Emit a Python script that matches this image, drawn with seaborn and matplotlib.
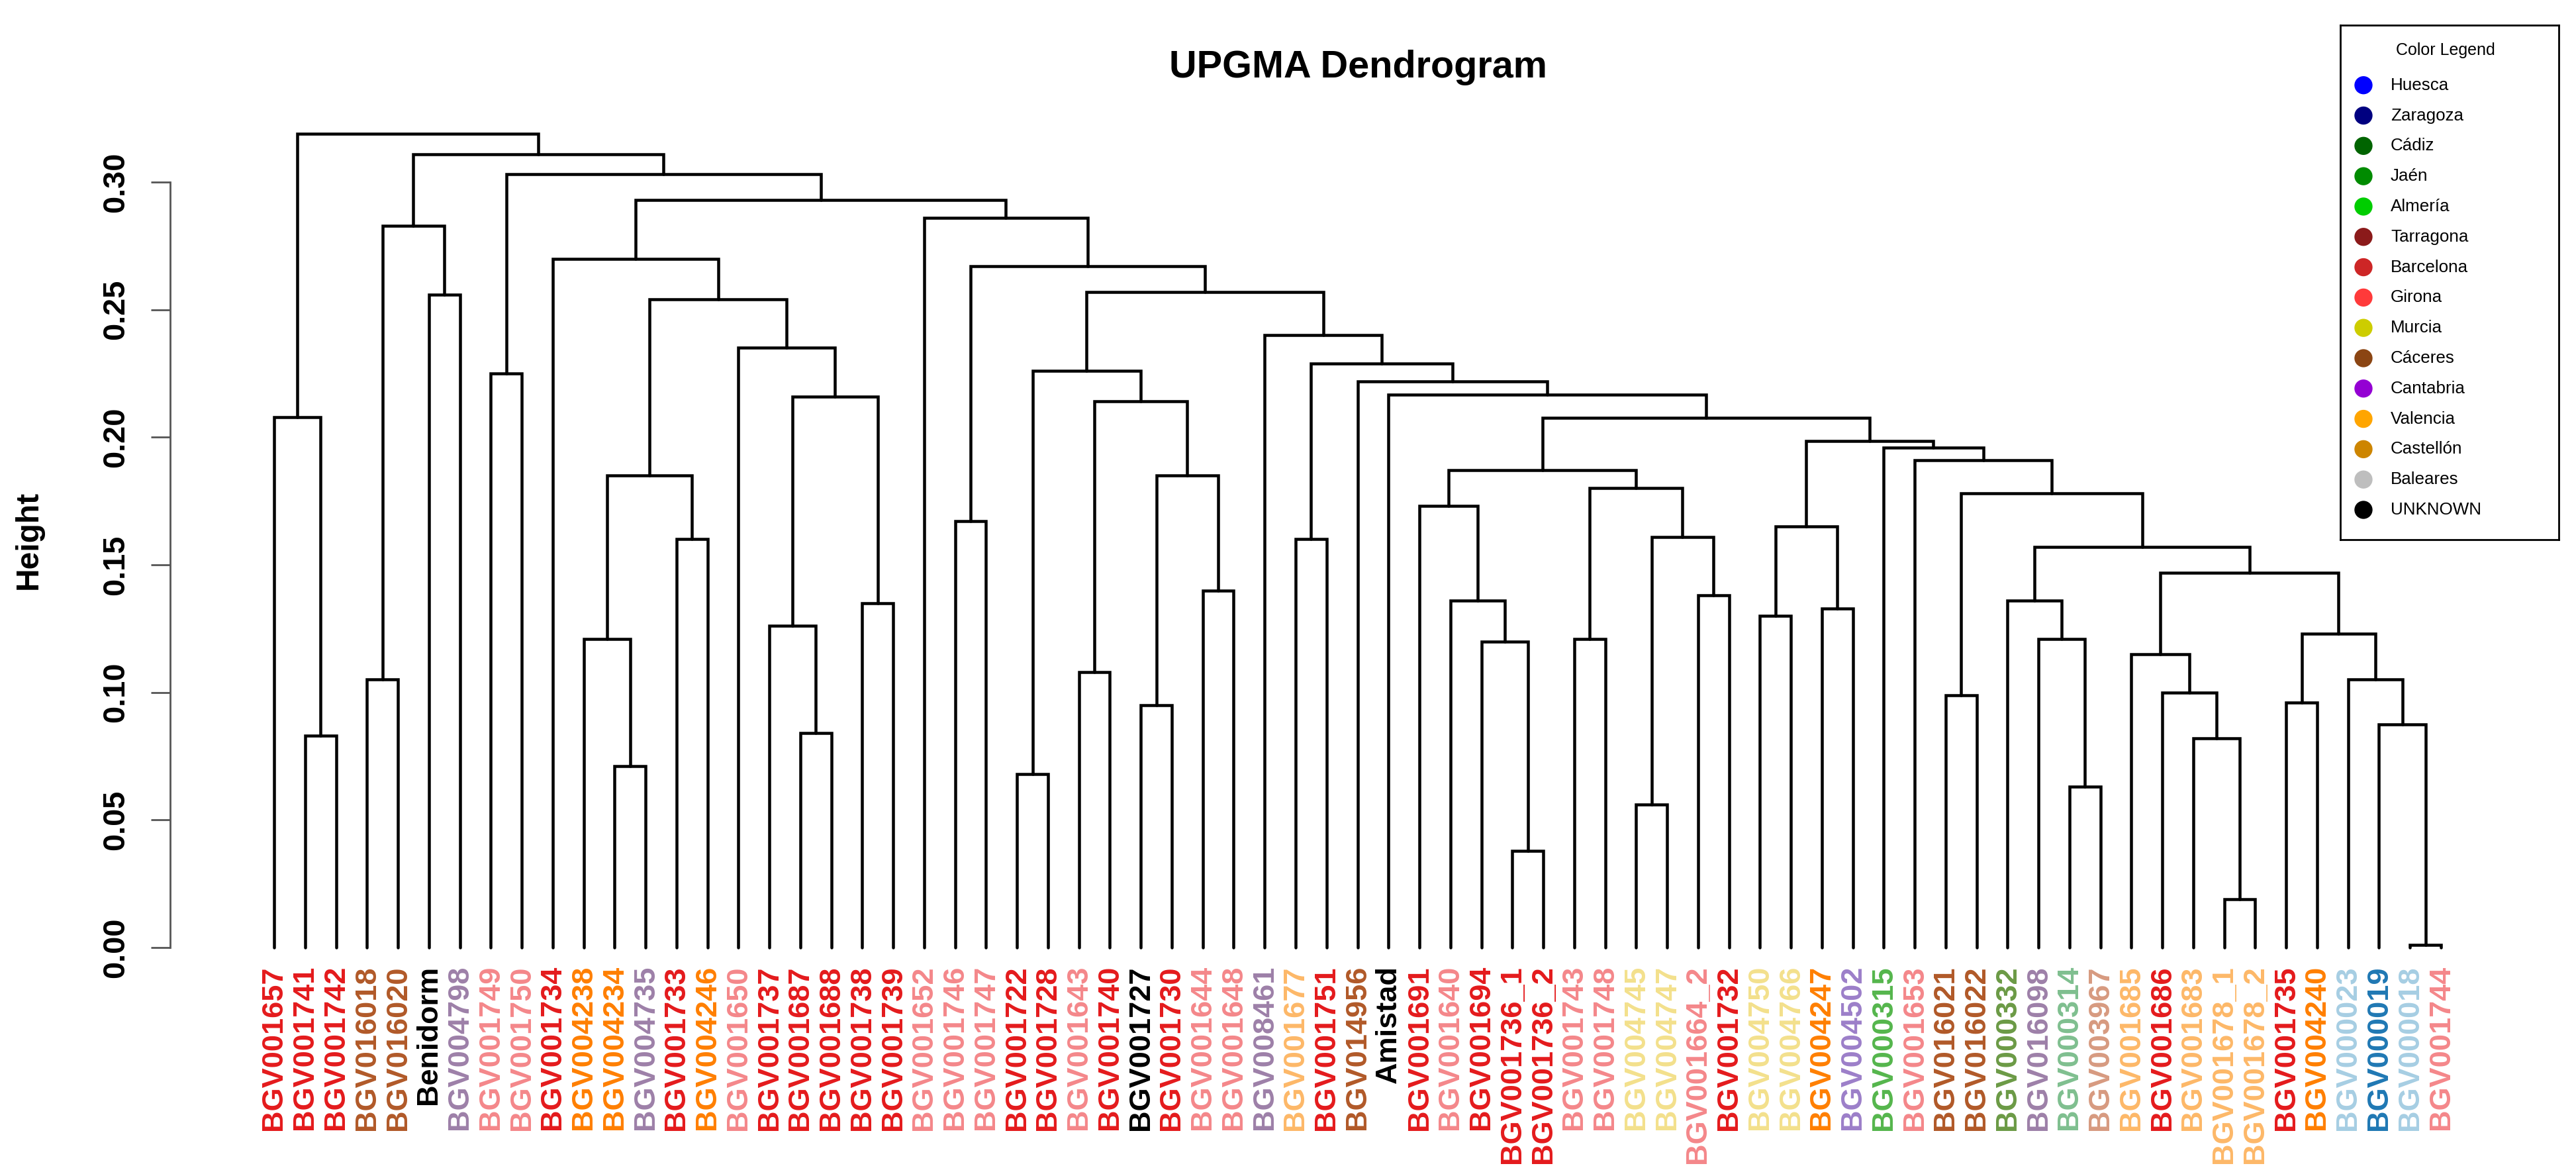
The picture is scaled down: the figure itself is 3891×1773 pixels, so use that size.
import numpy as np
import pandas as pd
import matplotlib
matplotlib.use("Agg")
import matplotlib.pyplot as plt
import seaborn as sns

# ---------------- data ----------------
leaf_labels = [
    "BGV001657", "BGV001741", "BGV001742", "BGV016018", "BGV016020", "Benidorm",
    "BGV004798", "BGV001749", "BGV001750", "BGV001734", "BGV004238", "BGV004234",
    "BGV004735", "BGV001733", "BGV004246", "BGV001650", "BGV001737", "BGV001687",
    "BGV001688", "BGV001738", "BGV001739", "BGV001652", "BGV001746", "BGV001747",
    "BGV001722", "BGV001728", "BGV001643", "BGV001740", "BGV001727", "BGV001730",
    "BGV001644", "BGV001648", "BGV008461", "BGV001677", "BGV001751", "BGV014956",
    "Amistad", "BGV001691", "BGV001640", "BGV001694", "BGV001736_1", "BGV001736_2",
    "BGV001743", "BGV001748", "BGV004745", "BGV004747", "BGV001664_2", "BGV001732",
    "BGV004750", "BGV004766", "BGV004247", "BGV004502", "BGV000315", "BGV001653",
    "BGV016021", "BGV016022", "BGV000332", "BGV016098", "BGV000314", "BGV003967",
    "BGV001685", "BGV001686", "BGV001683", "BGV001678_1", "BGV001678_2", "BGV001735",
    "BGV004240", "BGV000023", "BGV000019", "BGV000018", "BGV001744",
]

leaf_groups = [
    "R", "R", "R", "BR", "BR", "K", "PG", "P", "P", "R", "O", "O", "PG", "R", "O",
    "P", "R", "R", "R", "R", "R", "P", "P", "P", "R", "R", "P", "R", "K", "R",
    "P", "P", "PG", "LO", "R", "BR", "K", "R", "P", "R", "R", "R", "P", "P", "LY",
    "LY", "P", "R", "LY", "LY", "O", "PU", "G", "P", "BR", "BR", "OG", "PG", "LG", "T",
    "LO", "R", "LO", "LO", "LO", "R", "O", "LB", "B", "LB", "P",
]

group_colors = {
    "R": "#E41A1C", "P": "#F4878A", "BR": "#B15928", "K": "#000000",
    "PG": "#9D80A8", "O": "#FF7F00", "LO": "#FDB868", "LY": "#F3E08C",
    "PU": "#9C7FC9", "G": "#55B64C", "OG": "#6B9A45", "LG": "#7FBF8F",
    "T": "#D79A80", "LB": "#A6CEE3", "B": "#1F78B4",
}

# linkage (leaves 0..70, clusters numbered 71.. in merge order)
merge_a = [1, 0, 3, 5, 73, 7, 11, 10, 13, 78,
           17, 16, 19, 82, 15, 80, 9, 22, 24, 26,
           28, 30, 91, 90, 89, 33, 40, 39, 38, 37,
           42, 44, 46, 102, 101, 100, 48, 50, 107, 54,
           58, 57, 56, 63, 62, 61, 60, 65, 69, 68,
           67, 118, 117, 113, 110, 53, 52, 109, 106, 36,
           35, 96, 32, 95, 88, 21, 87, 76, 75, 72]
merge_b = [2, 71, 4, 6, 74, 8, 12, 77, 14, 79,
           18, 81, 20, 83, 84, 85, 86, 23, 25, 27,
           29, 31, 92, 93, 94, 34, 41, 97, 98, 99,
           43, 45, 47, 103, 104, 105, 49, 51, 108, 55,
           59, 111, 112, 64, 114, 115, 116, 66, 70, 119,
           120, 121, 122, 123, 124, 125, 126, 127, 128, 129,
           130, 131, 132, 133, 134, 135, 136, 137, 138, 139]
merge_h = [0.083, 0.208, 0.105, 0.256, 0.283, 0.225, 0.071, 0.121, 0.160, 0.185,
           0.084, 0.126, 0.135, 0.216, 0.235, 0.254, 0.270, 0.167, 0.068, 0.108,
           0.095, 0.140, 0.185, 0.214, 0.226, 0.160, 0.038, 0.120, 0.136, 0.173,
           0.121, 0.056, 0.138, 0.161, 0.180, 0.187, 0.130, 0.133, 0.165, 0.099,
           0.063, 0.121, 0.136, 0.019, 0.082, 0.100, 0.115, 0.096, 0.001, 0.0875,
           0.105, 0.123, 0.147, 0.157, 0.178, 0.191, 0.196, 0.1985, 0.2077, 0.2166,
           0.222, 0.229, 0.240, 0.257, 0.267, 0.286, 0.293, 0.303, 0.311, 0.319]

y_ticks = [0.00, 0.05, 0.10, 0.15, 0.20, 0.25, 0.30]

legend_names = ["Huesca", "Zaragoza", "Cádiz", "Jaén", "Almería", "Tarragona",
                "Barcelona", "Girona", "Murcia", "Cáceres", "Cantabria", "Valencia",
                "Castellón", "Baleares", "UNKNOWN"]
legend_colors = ["#0000FF", "#000080", "#006400", "#008B00", "#00CD00", "#8B1A1A",
                 "#CD2626", "#FF3A3A", "#CDCD00", "#8B4513", "#9400D3", "#FFA500",
                 "#CD8500", "#BEBEBE", "#000000"]

# ---------------- build dendrogram segments ----------------
n = len(leaf_labels)
xpos = {i: float(i + 1) for i in range(n)}
hpos = {i: 0.0 for i in range(n)}
rows = []
for k, (a, b, h) in enumerate(zip(merge_a, merge_b, merge_h)):
    cid = n + k
    pts = [(xpos[a], hpos[a]), (xpos[a], h), (xpos[b], h), (xpos[b], hpos[b])]
    for j, (xx, yy) in enumerate(pts):
        rows.append({"seg": k, "step": j, "x": xx, "y": yy})
    xpos[cid] = (xpos[a] + xpos[b]) / 2.0
    hpos[cid] = h
seg_df = pd.DataFrame(rows)

# ---------------- figure ----------------
sns.set_theme(style="white")
plt.rcParams["font.family"] = ["Liberation Sans", "DejaVu Sans"]
plt.rcParams["text.color"] = "black"
plt.rcParams["axes.labelcolor"] = "black"
plt.rcParams["xtick.color"] = "black"
plt.rcParams["ytick.color"] = "black"

W, H = 3891, 1773
DPI = 250
fig = plt.figure(figsize=(W / DPI, H / DPI), dpi=DPI)

ax_left_px, ax_right_px = 257, 3850
y0_px, ytop_px = 1431, 180
leaf1_px, leafN_px = 414, 3687
sp = (leafN_px - leaf1_px) / (n - 1)
per_unit = (1431 - 275) / 0.30

ax = fig.add_axes([ax_left_px / W, (H - y0_px) / H,
                   (ax_right_px - ax_left_px) / W, (y0_px - ytop_px) / H])

sns.lineplot(data=seg_df, x="x", y="y", units="seg", estimator=None, sort=False,
             color="black", linewidth=1.3, ax=ax)
for ln in ax.lines:
    ln.set_clip_on(False)
    ln.set_solid_joinstyle("miter")

ax.set_xlim(1 - (leaf1_px - ax_left_px) / sp, n + (ax_right_px - leafN_px) / sp)
ax.set_ylim(0, (y0_px - ytop_px) / per_unit)
ax.set_xlabel("")
ax.set_ylabel("")
ax.grid(False)

ax.set_xticks(np.arange(1, n + 1))
ax.set_xticklabels(leaf_labels, rotation=90, fontsize=13, fontweight="bold")
for t, g in zip(ax.get_xticklabels(), leaf_groups):
    t.set_color(group_colors[g])
ax.tick_params(axis="x", length=0, pad=7.8, bottom=False)

ax.set_yticks(y_ticks)
ax.set_yticklabels([f"{v:.2f}" for v in y_ticks], rotation=90, va="center",
                   fontsize=13.5, fontweight="bold", color="black")
ax.tick_params(axis="y", left=True, length=8.4, width=0.8, color="#555555",
               labelcolor="black", pad=8.9)

for s in ["top", "right", "bottom"]:
    ax.spines[s].set_visible(False)
ax.spines["left"].set_visible(True)
ax.spines["left"].set_bounds(0, 0.30)
ax.spines["left"].set_color("#555555")
ax.spines["left"].set_linewidth(0.8)

fig.text(2051 / W, 1 - 117 / H, "UPGMA Dendrogram", ha="center", va="baseline",
         fontsize=16.6, fontweight="bold", color="black")
fig.text(43 / W, 1 - 815 / H, "Height", rotation=90, ha="center", va="center",
         fontsize=13.8, fontweight="bold", color="black")

# ---------------- legend box ----------------
lx0, lx1, ly0, ly1 = 3535, 3865, 38, 815
lax = fig.add_axes([lx0 / W, (H - ly1) / H, (lx1 - lx0) / W, (ly1 - ly0) / H])
lax.set_xlim(0, 1)
lax.set_ylim(1, 0)
lax.set_xticks([])
lax.set_yticks([])
for s in lax.spines.values():
    s.set_visible(True)
    s.set_color("black")
    s.set_linewidth(0.8)
lax.set_facecolor("white")

entry_y = np.linspace((128.7 - ly0) / (ly1 - ly0), (770 - ly0) / (ly1 - ly0), len(legend_names))
leg_df = pd.DataFrame({"x": 0.106, "y": entry_y, "name": legend_names})
sns.scatterplot(data=leg_df, x="x", y="y", hue="name",
                palette=dict(zip(legend_names, legend_colors)),
                s=62, linewidth=0, legend=False, ax=lax)
lax.set_xlabel("")
lax.set_ylabel("")
for yy, name in zip(entry_y, legend_names):
    lax.text(0.23, yy, name, va="center", ha="left", fontsize=7.5, color="black")
lax.text(0.482, (76 - ly0) / (ly1 - ly0), "Color Legend", va="center", ha="center",
         fontsize=7.2, color="black")

fig.savefig("out.png", dpi=DPI)
